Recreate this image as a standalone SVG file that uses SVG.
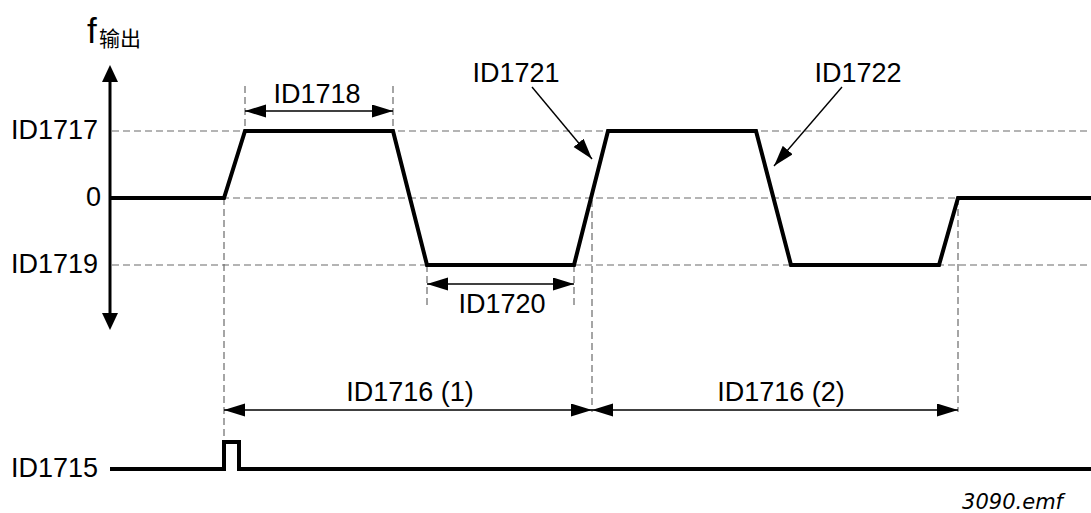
<svg xmlns="http://www.w3.org/2000/svg" width="1091" height="513" viewBox="0 0 1091 513">
<style>
.t{font-family:"Liberation Sans",Arial,sans-serif;font-size:27px;fill:#000}
.r{text-anchor:end}
.m{text-anchor:middle}
.d{stroke:#6a6a6a;stroke-width:1.2;stroke-dasharray:7 4;fill:none}
.w{stroke:#000;stroke-width:4;fill:none;stroke-linejoin:miter}
.a{stroke:#000;stroke-width:1.4;fill:none}
</style>
<defs>
<marker id="ah" markerUnits="userSpaceOnUse" markerWidth="22" markerHeight="14" refX="21" refY="6.5" orient="auto-start-reverse">
<path d="M0,0 L21,6.5 L0,13 z" fill="#000"/>
</marker>
</defs>
<rect width="1091" height="513" fill="#fff"/>
<g id="grid">
<line class="d" x1="112" y1="131" x2="1091" y2="131"/>
<line class="d" x1="112" y1="198" x2="1091" y2="198"/>
<line class="d" x1="112" y1="265" x2="1091" y2="265"/>
<line class="d" x1="245" y1="86" x2="245" y2="131"/>
<line class="d" x1="393" y1="86" x2="393" y2="131"/>
<line class="d" x1="224" y1="198" x2="224" y2="442"/>
<line class="d" x1="427" y1="265" x2="427" y2="308"/>
<line class="d" x1="574" y1="265" x2="574" y2="308"/>
<line class="d" x1="592" y1="200" x2="592" y2="412"/>
<line class="d" x1="958" y1="198" x2="958" y2="412"/>
</g>
<g id="axis">
<line x1="110" y1="80" x2="110" y2="316" stroke="#000" stroke-width="3"/>
<path d="M110,65 L118,82 L102,82 z" fill="#000"/>
<path d="M110,330 L118,313 L102,313 z" fill="#000"/>
</g>
<g id="waveform">
<polyline class="w" points="110,198 224,198 245,131 393,131 427,265 574,265 608,131 756,131 791,265 939,265 958,198 1091,198"/>
</g>
<g id="pulse">
<polyline class="w" points="110,469 224,469 224,442 239,442 239,469 1091,469"/>
</g>
<g id="connectors">
<line class="a" x1="245" y1="111" x2="393" y2="111" marker-start="url(#ah)" marker-end="url(#ah)"/>
<line class="a" x1="427" y1="284" x2="574" y2="284" marker-start="url(#ah)" marker-end="url(#ah)"/>
<line class="a" x1="224" y1="410" x2="592" y2="410" marker-start="url(#ah)" marker-end="url(#ah)"/>
<line class="a" x1="592" y1="410" x2="958" y2="410" marker-start="url(#ah)" marker-end="url(#ah)"/>
<line class="a" x1="532" y1="87" x2="592" y2="159" marker-end="url(#ah)"/>
<line class="a" x1="842" y1="87" x2="774" y2="166" marker-end="url(#ah)"/>
</g>
<g id="label-fout">
<text x="87" y="43" font-family="'Liberation Sans',Arial,sans-serif" font-size="35">f</text>
<text x="99" y="46" font-family="'Liberation Sans','Noto Sans CJK SC',sans-serif" font-size="21">输出</text>
</g>
<g id="label-ID1717"><text class="t r" x="98" y="139">ID1717</text></g>
<g id="label-0"><text class="t r" x="101" y="206" font-size="29">0</text></g>
<g id="label-ID1719"><text class="t r" x="98" y="273">ID1719</text></g>
<g id="label-ID1715"><text class="t r" x="98" y="477">ID1715</text></g>
<g id="label-ID1718"><text class="t m" x="317" y="103">ID1718</text></g>
<g id="label-ID1720"><text class="t m" x="502" y="313">ID1720</text></g>
<g id="label-ID1721"><text class="t m" x="516" y="82">ID1721</text></g>
<g id="label-ID1722"><text class="t m" x="858" y="82">ID1722</text></g>
<g id="label-ID1716-1"><text class="t m" x="410" y="401">ID1716 (1)</text></g>
<g id="label-ID1716-2"><text class="t m" x="781" y="401">ID1716 (2)</text></g>
<g id="label-file"><text x="1063" y="509" text-anchor="end" font-family="'DejaVu Sans',Verdana,sans-serif" font-style="italic" font-size="21">3090.emf</text></g>
</svg>
